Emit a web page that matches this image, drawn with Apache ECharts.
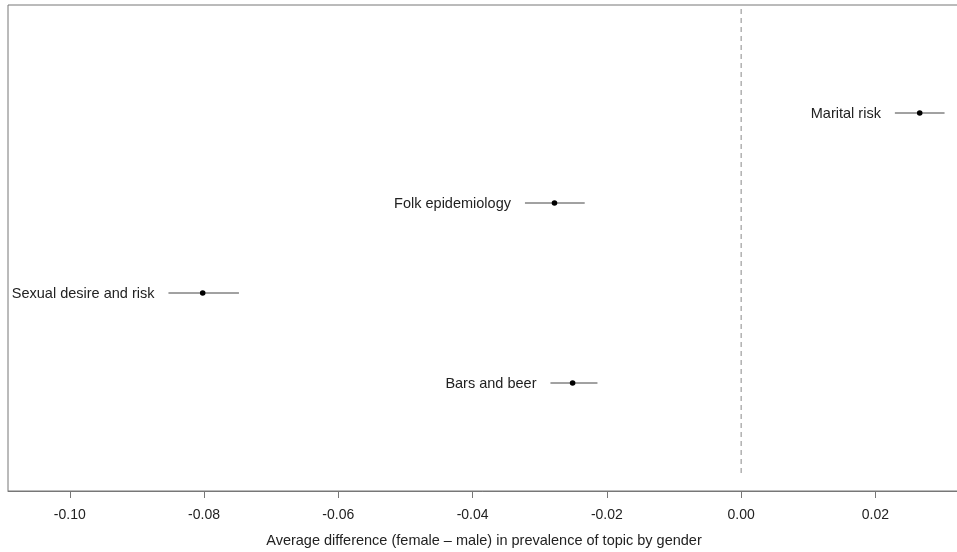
<!DOCTYPE html>
<html>
<head>
<meta charset="utf-8">
<script src="https://cdn.jsdelivr.net/npm/echarts@6/dist/echarts.min.js"></script>
<style>html,body{margin:0;padding:0;background:#fff}#c{width:957px;height:552px}</style>
</head>
<body>
<div id="c"></div>
<script>
var topics = ["Marital risk", "Folk epidemiology", "Sexual desire and risk", "Bars and beer"];
var estimates = [0.0266, -0.0278, -0.0802, -0.0251];
var ciLow = [0.0229, -0.0322, -0.0853, -0.0284];
var ciHigh = [0.0303, -0.0233, -0.0748, -0.0214];
var yPos = [4, 3, 2, 1];
var xTicks = [-0.10, -0.08, -0.06, -0.04, -0.02, 0.00, 0.02];

var data = topics.map(function (t, i) { return [estimates[i], yPos[i], ciLow[i], ciHigh[i], i]; });

var chart = echarts.init(document.getElementById('c'));
chart.setOption({
  animation: false,
  grid: { left: 8, top: 5, width: 952, height: 486, containLabel: false, outerBoundsMode: 'none', show: true, borderColor: '#777', borderWidth: 1, backgroundColor: 'transparent' },
  xAxis: {
    type: 'value', min: -0.1092, max: 0.0326,
    splitLine: { show: false },
    axisLine: { show: true, onZero: false, lineStyle: { color: '#777', width: 1 } },
    axisTick: { show: true, inside: false, length: 7, lineStyle: { color: '#777' }, customValues: xTicks },
    axisLabel: { customValues: xTicks, margin: 17, color: '#222', fontSize: 14, fontFamily: 'Liberation Sans', formatter: function (v) { return v.toFixed(2); } },
    name: 'Average difference (female \u2013 male) in prevalence of topic by gender',
    nameLocation: 'middle', nameGap: 42,
    nameTextStyle: { color: '#222', fontSize: 14.5, fontFamily: 'Liberation Sans' }
  },
  yAxis: { type: 'value', min: -0.2, max: 5.2, show: false, splitLine: { show: false }, axisLine: { onZero: false } },
  series: [
    {
      type: 'line', data: [[0, 0], [0, 5.2]], symbol: 'none', silent: true,
      lineStyle: { color: '#888', width: 1, type: [5, 4] }
    },
    {
      type: 'custom',
      data: data,
      renderItem: function (params, api) {
        var y = api.value(1);
        var p = api.coord([api.value(0), y]);
        var lo = api.coord([api.value(2), y]);
        var hi = api.coord([api.value(3), y]);
        var idx = api.value(4);
        return {
          type: 'group',
          children: [
            { type: 'line', shape: { x1: lo[0], y1: lo[1], x2: hi[0], y2: hi[1] }, style: { stroke: '#444', lineWidth: 1 } },
            { type: 'circle', shape: { cx: p[0], cy: p[1], r: 2.8 }, style: { fill: '#000' } },
            { type: 'text', x: lo[0] - 14, y: lo[1] + 1, style: { text: topics[idx], align: 'right', verticalAlign: 'middle', fill: '#222', fontSize: 14.5, fontFamily: 'Liberation Sans' } }
          ]
        };
      }
    }
  ]
});
</script>
</body>
</html>
